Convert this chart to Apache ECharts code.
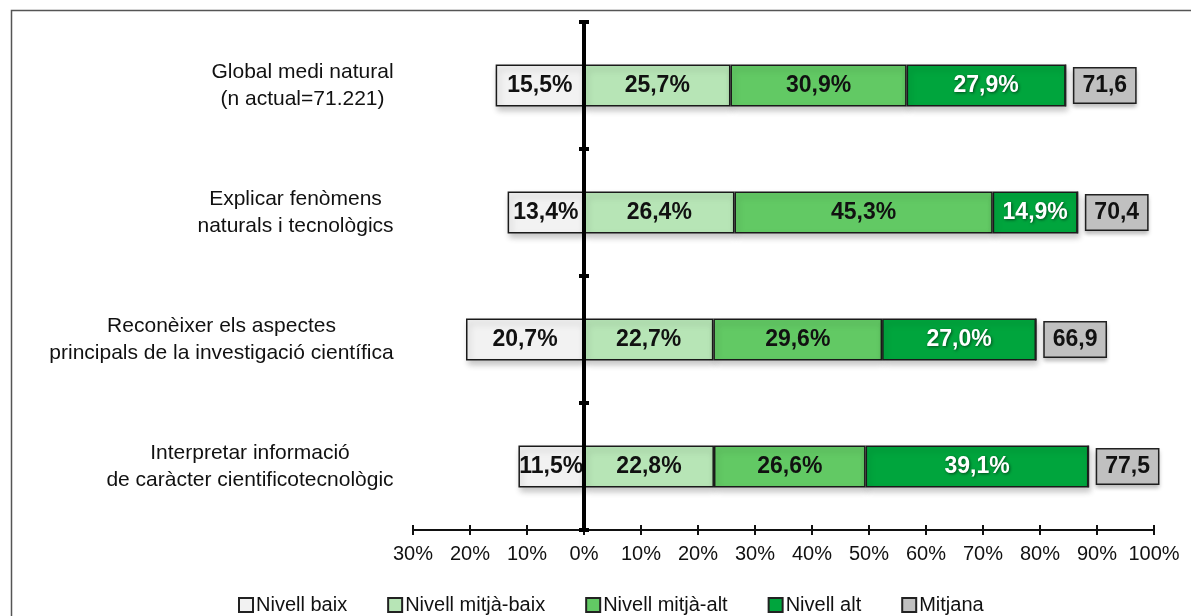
<!DOCTYPE html>
<html>
<head>
<meta charset="utf-8">
<script src="https://cdn.jsdelivr.net/npm/echarts@6/dist/echarts.min.js"></script>
<style>
html,body{margin:0;padding:0;background:#fff;}
#chart{width:1191px;height:616px;}
</style>
</head>
<body>
<div id="chart"></div>
<script>
const categories = [
  'Global medi natural\n(n actual=71.221)',
  'Explicar fenòmens\nnaturals i tecnològics',
  'Reconèixer els aspectes\nprincipals de la investigació científica',
  'Interpretar informació\nde caràcter cientificotecnològic'
];
const seriesNames = ['Nivell baix', 'Nivell mitjà-baix', 'Nivell mitjà-alt', 'Nivell alt', 'Mitjana'];
const nivellBaix = [15.5, 13.4, 20.7, 11.5];
const nivellMitjaBaix = [25.7, 26.4, 22.7, 22.8];
const nivellMitjaAlt = [30.9, 45.3, 29.6, 26.6];
const nivellAlt = [27.9, 14.9, 27.0, 39.1];
const mitjana = [71.6, 70.4, 66.9, 77.5];
const xMin = -30, xMax = 100, xStep = 10;

const FONT = '"Liberation Sans", Arial, sans-serif';
const pct = v => Math.abs(v).toFixed(1).replace('.', ',') + '%';

// centred multi-line category labels
const ctx = document.createElement('canvas').getContext('2d');
ctx.font = '21px "Liberation Sans", Arial';
const rich = {};
categories.forEach((c, i) => {
  const w = Math.max(...c.split('\n').map(l => ctx.measureText(l).width));
  rich['c' + i] = { width: Math.ceil(w) + 2, align: 'center', fontSize: 21, fontFamily: FONT, color: '#111', lineHeight: 27 };
});

const chart = echarts.init(document.getElementById('chart'), null, { renderer: 'canvas' });

const barBase = {
  type: 'bar', stack: 'total', barWidth: 42, xAxisIndex: 0, yAxisIndex: 0,
  emphasis: { disabled: true }
};
const barStyle = color => ({
  color: color, borderColor: '#1a1a1a', borderWidth: 1.5,
  shadowColor: 'rgba(0,0,0,0.22)', shadowBlur: 6, shadowOffsetY: 4, shadowOffsetX: 2
});
const inLabel = (col, shadow) => ({
  show: true, position: 'inside', formatter: p => pct(p.value),
  fontFamily: FONT, fontWeight: 'bold', fontSize: 23, color: col,
  textShadowColor: shadow ? 'rgba(0,0,0,0.55)' : 'transparent',
  textShadowBlur: shadow ? 3 : 0, textShadowOffsetX: shadow ? 1 : 0, textShadowOffsetY: shadow ? 1 : 0
});

const option = {
  animation: false,
  backgroundColor: '#fff',
  graphic: [{
    type: 'rect', left: 9, top: 8, silent: true, z: 100,
    shape: { width: 1200, height: 700 },
    style: { fill: 'none', stroke: '#555', lineWidth: 1.5 }
  }],
  grid: { left: 413, right: 37, top: 22, bottom: 86, containLabel: false },
  legend: {
    left: 233, top: 590,
    itemWidth: 14, itemHeight: 14, itemGap: 40,
    icon: 'rect',
    itemStyle: { borderColor: '#222', borderWidth: 2, shadowBlur: 0, shadowOffsetX: 0, shadowOffsetY: 0 },
    textStyle: { fontFamily: FONT, fontSize: 20, color: '#111', padding: [0, 0, 0, -2] },
    data: seriesNames
  },
  xAxis: [{
    type: 'value', min: xMin, max: xMax, interval: xStep, position: 'bottom',
    axisLine: { show: true, lineStyle: { color: '#111', width: 2 } },
    axisTick: { show: true, length: 5, lineStyle: { color: '#111', width: 2 } },
    axisLabel: { formatter: v => Math.abs(v) + '%', fontFamily: FONT, fontSize: 20, color: '#111', margin: 14 },
    splitLine: { show: false }
  }, {
    type: 'value', min: xMin, max: xMax, interval: xStep, position: 'bottom',
    axisLine: { show: false },
    axisTick: { show: true, inside: true, length: 5, lineStyle: { color: '#111', width: 2 } },
    axisLabel: { show: false },
    splitLine: { show: false }
  }],
  yAxis: [{
    type: 'category', data: categories, inverse: true, position: 'left',
    axisLine: { show: false, onZero: false },
    axisTick: { show: false },
    axisLabel: {
      margin: 18,
      formatter: (v, i) => v.split('\n').map(l => '{c' + i + '|' + l + '}').join('\n'),
      rich: rich
    }
  }, {
    type: 'category', data: categories, inverse: true, position: 'left',
    axisLine: { show: true, onZero: true, lineStyle: { color: '#000', width: 4 } },
    axisTick: { show: true, length: 5, lineStyle: { color: '#000', width: 4 } },
    axisLabel: { show: false }, z: 10
  }, {
    type: 'category', data: categories, inverse: true, position: 'left',
    axisLine: { show: false, onZero: true },
    axisTick: { show: true, inside: true, length: 5, lineStyle: { color: '#000', width: 4 } },
    axisLabel: { show: false }, z: 10
  }],
  series: [
    Object.assign({}, barBase, { name: seriesNames[0], data: nivellBaix.map(v => -v),
      itemStyle: barStyle('#f2f2f2'), label: inLabel('#111', false) }),
    Object.assign({}, barBase, { name: seriesNames[1], data: nivellMitjaBaix,
      itemStyle: barStyle('#b7e5b6'), label: inLabel('#111', false) }),
    Object.assign({}, barBase, { name: seriesNames[2], data: nivellMitjaAlt,
      itemStyle: barStyle('#62c964'), label: inLabel('#111', false) }),
    Object.assign({}, barBase, { name: seriesNames[3], data: nivellAlt,
      itemStyle: barStyle('#00a53d'), label: inLabel('#fff', true) }),
    Object.assign({}, barBase, { name: seriesNames[4], data: mitjana.map(() => 0),
      itemStyle: { color: '#c0c0c0', borderColor: '#222', borderWidth: 1.5 },
      label: {
        show: true, position: 'right', distance: 8,
        formatter: p => mitjana[p.dataIndex].toFixed(1).replace('.', ','),
        fontFamily: FONT, fontWeight: 'bold', fontSize: 23, color: '#111',
        backgroundColor: '#c0c0c0', borderColor: '#222', borderWidth: 1.5,
        padding: [6, 8, 5, 8],
        shadowColor: 'rgba(0,0,0,0.2)', shadowBlur: 4, shadowOffsetY: 3
      } })
  ]
};
chart.setOption(option);
</script>
</body>
</html>
